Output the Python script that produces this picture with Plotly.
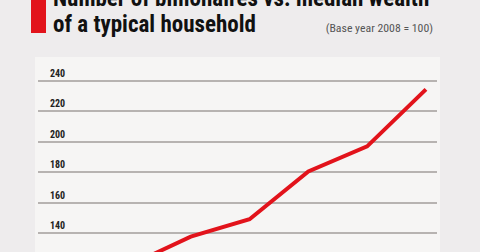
import plotly.graph_objects as go

# Index values, base year 2008 = 100
years = ["2008", "2009", "2010", "2011", "2012", "2013", "2014"]
billionaires_index = [100, 119.5, 137.6, 149, 180.4, 196.9, 234.3]

tick_values = [120, 140, 160, 180, 200, 220, 240]
tick_labels = ["120", "140", "160", "180", "200", "220", "240"]

W, H = 480, 252
L, R, T, B = 38, 43, 57, 0
PW, PH = W - L - R, H - T - B
Y_RANGE = [127.5, 255.6]


def px_x(x):
    return (x - L) / PW


def px_y(y):
    return (H - B - y) / PH


RED = "#e2131b"
FONT = "Roboto, Liberation Sans, sans-serif"

fig = go.Figure()
fig.add_trace(go.Scatter(
    x=list(range(len(years))),
    y=billionaires_index,
    mode="lines",
    line=dict(color=RED, width=4),
    hoverinfo="skip",
    showlegend=False,
))

# light panel behind the plot
fig.add_shape(type="rect", xref="paper", yref="paper",
              x0=px_x(35), x1=px_x(440), y0=px_y(H + 5), y1=px_y(57),
              fillcolor="#f6f5f4", line=dict(width=0), layer="below")
# red marker next to the title
fig.add_shape(type="rect", xref="paper", yref="paper",
              x0=px_x(31), x1=px_x(46), y0=px_y(33), y1=px_y(-5),
              fillcolor=RED, line=dict(width=0), layer="above")

fig.add_annotation(xref="paper", yref="paper", x=px_x(51), y=px_y(14),
                   xanchor="left", yanchor="bottom", align="left", showarrow=False,
                   text="<b>Number of billionaires vs. median wealth</b>",
                   font=dict(family=FONT, size=23, color="#111111"))
fig.add_annotation(xref="paper", yref="paper", x=px_x(51), y=px_y(40),
                   xanchor="left", yanchor="bottom", align="left", showarrow=False,
                   text="<b>of a typical household</b>",
                   font=dict(family=FONT, size=23, color="#111111"))
fig.add_annotation(xref="paper", yref="paper", x=px_x(435), y=px_y(28),
                   xanchor="right", yanchor="middle", align="right", showarrow=False,
                   text="(Base year 2008 = 100)",
                   font=dict(family=FONT, size=11.8, color="#555555"))

for v, lab in zip(tick_values, tick_labels):
    if Y_RANGE[0] < v < Y_RANGE[1]:
        fig.add_annotation(xref="paper", yref="y", x=px_x(48), y=v,
                           xanchor="left", yanchor="bottom", align="left",
                           showarrow=False, yshift=0, text="<b>" + lab + "</b>",
                           font=dict(family=FONT, size=10, color="#222222"))

fig.update_xaxes(range=[-0.598, 6.188], visible=False, showgrid=False,
                 zeroline=False)
fig.update_yaxes(range=Y_RANGE, tickvals=tick_values, showticklabels=False,
                 showgrid=True, gridcolor="#b7b3b1", gridwidth=1.5,
                 zeroline=False, showline=False, ticks="")

fig.update_layout(
    width=W, height=H,
    margin=dict(l=L, r=R, t=T, b=B, pad=0),
    paper_bgcolor="#eeeced",
    plot_bgcolor="rgba(0,0,0,0)",
    showlegend=False,
)

# condensed width for all annotation text
condense = ("document.querySelectorAll('.annotation-text')"
            ".forEach(function(el){el.style.fontStretch='condensed';});")
fig.write_html("out.html", include_plotlyjs=True,
               config={"displayModeBar": False}, post_script=condense)
